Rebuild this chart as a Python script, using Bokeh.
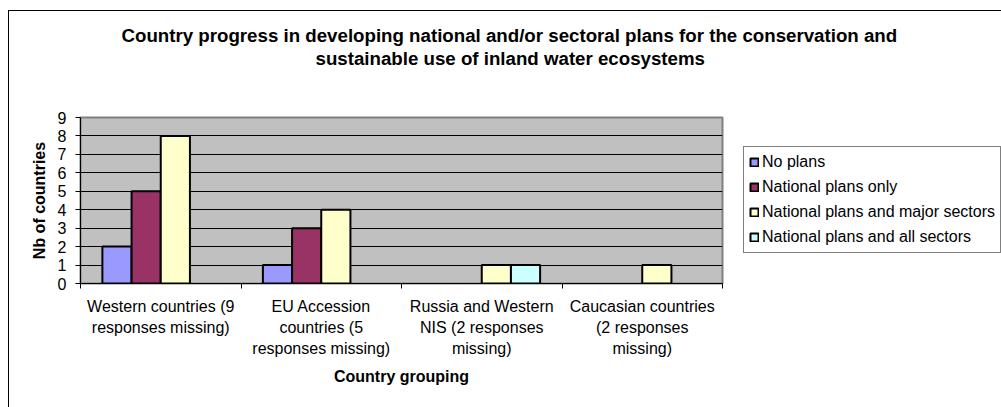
from bokeh.plotting import figure
from bokeh.models import ColumnDataSource, FixedTicker, Legend, LegendItem, Range1d, Title
from bokeh.embed import file_html
from bokeh.resources import INLINE

# ---- data ----
categories = [
    "Western countries (9\nresponses missing)",
    "EU Accession\ncountries (5\nresponses missing)",
    "Russia and Western\nNIS (2 responses\nmissing)",
    "Caucasian countries\n(2 responses\nmissing)",
]
series_names = [
    "No plans",
    "National plans only",
    "National plans and major sectors",
    "National plans and all sectors",
]
no_plans = [2, 1, 0, 0]
national_only = [5, 3, 0, 0]
major_sectors = [8, 4, 1, 1]
all_sectors = [0, 0, 1, 0]
y_ticks = [0, 1, 2, 3, 4, 5, 6, 7, 8, 9]
colors = ["#9999FF", "#993366", "#FFFFCC", "#CCFFFF"]

title_line1 = "Country progress in developing national and/or sectoral plans for the conservation and"
title_line2 = "sustainable use of inland water ecosystems"
FONT = "Liberation Sans"

p = figure(
    frame_width=642, frame_height=166,
    min_border_left=71, min_border_right=279, min_border_top=106, min_border_bottom=124,
    x_range=Range1d(0, len(categories)), y_range=Range1d(0, 9),
    output_backend="svg", toolbar_location=None,
    background_fill_color="#C0C0C0", border_fill_color="white",
    outline_line_color="#808080", outline_line_width=2,
)
p.styles = {
    "margin-left": "8px", "margin-top": "10px",
    "border-left": "1px solid black", "border-top": "1px solid black",
}

# titles: spacer nearest the frame, then line 2, then line 1
spacer = Title(text=" ", text_font=FONT, text_font_size="10px", text_line_height=1.0,
               standoff=36)
t2 = Title(text=title_line2, align="left", offset=235, standoff=0,
           text_font=FONT, text_font_size="18.7px", text_font_style="bold",
           text_color="black", text_line_height=1.0)
t1 = Title(text=title_line1, align="left", offset=41, standoff=0,
           text_font=FONT, text_font_size="18.7px", text_font_style="bold",
           text_color="black", text_line_height=1.0)
p.add_layout(spacer, "above")
p.add_layout(t2, "above")
p.add_layout(t1, "above")

# bars
n_series = len(series_names)
bar_w = 1.0 / (n_series + 1.5)
all_vals = [no_plans, national_only, major_sectors, all_sectors]
items = []
for j, (name, vals, col) in enumerate(zip(series_names, all_vals, colors)):
    xs, tops = [], []
    for i, v in enumerate(vals):
        if v > 0:
            xs.append(i + 0.5 + (j - (n_series - 1) / 2) * bar_w)
            tops.append(v)
    src = ColumnDataSource(dict(x=xs, top=tops))
    r = p.vbar(x="x", top="top", bottom=0, width=bar_w, source=src,
               fill_color=col, line_color="black", line_width=2)
    items.append(LegendItem(label=name, renderers=[r]))

# grid
p.xgrid.visible = False
p.ygrid.ticker = FixedTicker(ticks=y_ticks)
p.ygrid.grid_line_color = "black"
p.ygrid.grid_line_width = 1

# y axis
ya = p.yaxis[0]
ya.ticker = FixedTicker(ticks=y_ticks, minor_ticks=[])
ya.axis_label = "Nb of countries"
ya.axis_label_text_font = FONT
ya.axis_label_text_font_size = "16px"
ya.axis_label_text_font_style = "bold"
ya.axis_label_text_color = "black"
ya.axis_label_standoff = 7
ya.major_label_text_font = FONT
ya.major_label_text_font_size = "16px"
ya.major_label_text_color = "black"
ya.major_label_standoff = 9
ya.major_tick_out = 5
ya.major_tick_in = 0
ya.minor_tick_out = 0
ya.minor_tick_in = 0
ya.axis_line_color = "black"
ya.major_tick_line_color = "black"

# x axis
xa = p.xaxis[0]
centers = [i + 0.5 for i in range(len(categories))]
bounds = [float(i) for i in range(len(categories) + 1)]
xa.ticker = FixedTicker(ticks=centers, minor_ticks=bounds)
overrides = {}
for c, lab in zip(centers, categories):
    overrides[c] = lab
    overrides[str(c)] = lab
xa.major_label_overrides = overrides
xa.major_tick_out = 0
xa.major_tick_in = 0
xa.minor_tick_out = 5
xa.minor_tick_in = 0
xa.minor_tick_line_color = "black"
xa.axis_line_color = "black"
xa.major_label_text_font = FONT
xa.major_label_text_font_size = "16px"
xa.major_label_text_color = "black"
xa.major_label_text_line_height = 1.26
xa.major_label_standoff = 9
xa.axis_label = "Country grouping"
xa.axis_label_text_font = FONT
xa.axis_label_text_font_size = "16px"
xa.axis_label_text_font_style = "bold"
xa.axis_label_text_color = "black"
xa.axis_label_standoff = 8

legend = Legend(items=items, location=(21, 30),
                label_text_font=FONT, label_text_font_size="16px", label_text_color="black",
                glyph_width=10, glyph_height=10, label_standoff=3, label_height=20,
                padding=5, spacing=5, margin=0,
                border_line_color="black", border_line_width=1,
                background_fill_color="white", background_fill_alpha=1)
p.add_layout(legend, "right")

open("out.html", "w").write(file_html(p, INLINE))
